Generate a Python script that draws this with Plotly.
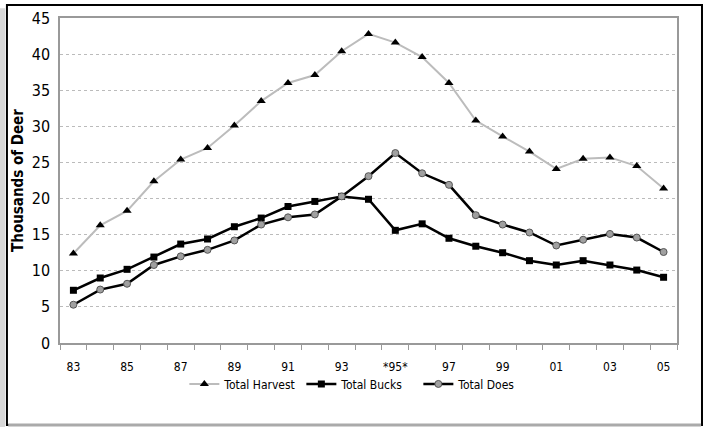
import plotly.graph_objects as go

years = ["83", "84", "85", "86", "87", "88", "89", "90", "91", "92", "93", "94",
         "*95*", "96", "97", "98", "99", "00", "01", "02", "03", "04", "05"]
harvest = [12.4, 16.3, 18.3, 22.4, 25.4, 27.0, 30.1, 33.5, 36.0, 37.1, 40.4, 42.8,
           41.6, 39.6, 36.0, 30.8, 28.6, 26.5, 24.1, 25.5, 25.7, 24.5, 21.4]
bucks = [7.3, 9.0, 10.2, 11.9, 13.7, 14.4, 16.1, 17.3, 18.9, 19.6, 20.3, 19.9,
         15.6, 16.5, 14.5, 13.4, 12.5, 11.4, 10.8, 11.4, 10.8, 10.1, 9.1]
does = [5.3, 7.4, 8.2, 10.8, 12.0, 12.9, 14.2, 16.4, 17.4, 17.8, 20.3, 23.1,
        26.3, 23.5, 21.9, 17.7, 16.4, 15.3, 13.5, 14.3, 15.1, 14.6, 12.6]
y_ticks = [0, 5, 10, 15, 20, 25, 30, 35, 40, 45]

idx = list(range(len(years)))
label_idx = idx[::2]
label_txt = [years[i] for i in label_idx]

FONT = "DejaVu Sans Condensed, Liberation Sans Narrow, sans-serif"

fig = go.Figure()
fig.add_trace(go.Scatter(
    x=idx, y=harvest, name="Total Harvest", mode="lines+markers",
    line=dict(color="#bcbcbc", width=2),
    marker=dict(symbol="triangle-up", size=8, color="black"),
))
fig.add_trace(go.Scatter(
    x=idx, y=bucks, name="Total Bucks", mode="lines+markers",
    line=dict(color="black", width=2.5),
    marker=dict(symbol="square", size=7, color="black"),
))
fig.add_trace(go.Scatter(
    x=idx, y=does, name="Total Does", mode="lines+markers",
    line=dict(color="black", width=2.5),
    marker=dict(symbol="circle", size=7, color="#a0a0a0",
                line=dict(color="#555555", width=1)),
))

fig.update_layout(
    width=710, height=427,
    margin=dict(l=60, r=33, t=18, b=84),
    paper_bgcolor="white", plot_bgcolor="white",
    font=dict(family=FONT, color="black", size=11),
    showlegend=True,
    legend=dict(orientation="h", x=0.486, xanchor="center", y=-0.126,
                yanchor="middle", font=dict(size=12, family=FONT),
                bgcolor="rgba(0,0,0,0)", entrywidth=72),
    xaxis=dict(
        range=[-0.5, len(years) - 0.5], automargin=False,
        tickmode="array", tickvals=label_idx, ticktext=label_txt,
        ticks="", showgrid=False, zeroline=False,
        showline=True, linecolor="#999999", linewidth=1.5, mirror=True,
        tickfont=dict(size=12, family=FONT),
        minor=dict(ticks="outside", tick0=-0.5, dtick=1, ticklen=5,
                   tickcolor="#999999", showgrid=False),
        ticklabelstandoff=12,
    ),
    yaxis=dict(
        range=[0, 45], tickmode="array", tickvals=y_ticks, automargin=False,
        showgrid=True, gridcolor="#bbbbbb", griddash="dot", gridwidth=1,
        zeroline=False, showline=True, linecolor="#999999", linewidth=1.5,
        mirror=True, ticks="", ticklabelstandoff=5,
        tickfont=dict(size=16, family=FONT),
        title=dict(text="<b>Thousands of Deer</b>", font=dict(size=15, family=FONT),
                   standoff=4),
    ),
    shapes=[
        dict(type="rect", xref="paper", yref="paper",
             x0=-0.0972, x1=-0.089, y0=-0.26, y1=1.03,
             fillcolor="#d8d8d8", line=dict(width=0), layer="below"),
        dict(type="rect", xref="paper", yref="paper",
             x0=-0.086, x1=1.0405, y0=-0.252, y1=1.04,
             line=dict(color="black", width=2), layer="below"),
        dict(type="line", xref="paper", yref="paper",
             x0=-0.084, x1=1.039, y0=-0.252, y1=-0.252,
             line=dict(color="#aaaaaa", width=3), layer="below"),
    ],
)

fig.write_html("out.html", config={"displayModeBar": False},
               post_script="document.body.style.margin='0';")
